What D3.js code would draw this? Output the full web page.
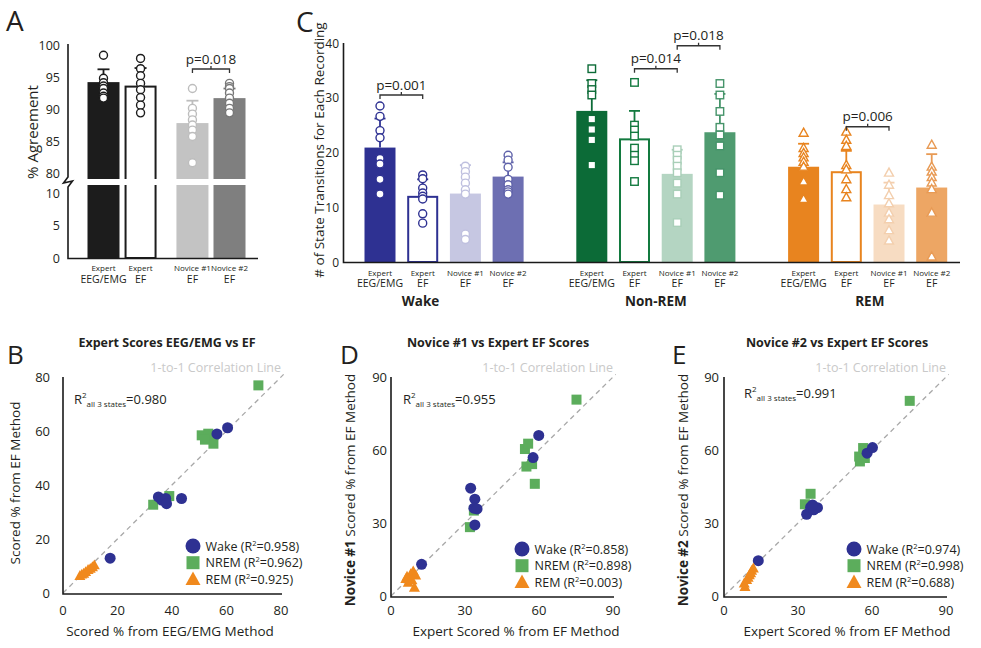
<!DOCTYPE html>
<html><head><meta charset="utf-8">
<script src="https://cdn.jsdelivr.net/npm/d3@7"></script>
<style>body{margin:0;background:#fff} text{font-family:"Open Sans",sans-serif}</style>
</head><body>
<svg id="chart" width="981" height="648"></svg>
<script>
// ---------------- DATA ----------------
const methodTop = ["Expert", "Expert", "Novice #1", "Novice #2"];
const methodBottom = ["EEG/EMG", "EF", "EF", "EF"];

// Panel A: % agreement
const agreeTicksUpper = [80, 85, 90, 95, 100];
const agreeTicksLower = [0, 5, 10];
const agreeMeans = [94.2, 93.5, 87.8, 91.7];
const agreeSD = [2.0, 2.9, 3.5, 1.5];
const agreePoints = [
  [98.4, 94.8, 94.1, 93.6, 93.2, 92.5, 92.0, 91.7],
  [97.9, 96.3, 95.2, 94.0, 93.0, 91.8, 90.6, 89.4],
  [93.2, 90.1, 89.2, 88.3, 87.5, 86.7, 85.7, 81.6],
  [94.0, 93.5, 93.2, 92.5, 91.7, 90.9, 90.1, 89.4]
];
const agreeSig = { a: 2, b: 3, level: 96.25, label: "p=0.018" };

// Panel C: state transitions
const states = ["Wake", "Non-REM", "REM"];
const transTicks = [0, 10, 20, 30, 40];
const wakeMeans = [20.9, 11.9, 12.5, 15.6];
const wakeSD = [5.3, 3.2, 5.2, 2.6];
const nremMeans = [27.6, 22.4, 16.1, 23.7];
const nremSD = [5.6, 5.2, 4.4, 7.0];
const remMeans = [17.4, 16.4, 10.5, 13.6];
const remSD = [4.2, 3.9, 4.0, 6.1];
const wakePoints = [
  [28.5, 26.6, 24.0, 22.7, 18.9, 17.9, 15.1, 12.4],
  [15.9, 15.2, 13.5, 12.6, 12.0, 11.5, 8.8, 7.1],
  [17.5, 16.5, 15.5, 14.4, 13.2, 12.4, 5.1, 4.1],
  [19.5, 18.6, 17.3, 15.1, 14.1, 13.2, 12.8, 12.4]
];
const nremPoints = [
  [35.3, 32.6, 31.5, 30.5, 26.1, 24.2, 22.3, 17.7],
  [32.8, 25.0, 24.1, 23.0, 20.8, 19.5, 18.5, 14.7],
  [20.5, 19.5, 18.6, 17.5, 16.3, 14.4, 12.4, 7.2],
  [32.6, 30.5, 27.5, 24.6, 23.2, 21.2, 16.3, 12.2]
];
const remPoints = [
  [23.6, 20.8, 19.9, 19.1, 18.3, 17.4, 14.7, 11.5],
  [23.8, 22.3, 21.2, 17.7, 16.9, 15.1, 13.3, 11.8],
  [16.3, 14.1, 12.2, 10.7, 9.0, 7.8, 5.8, 3.9],
  [21.4, 17.4, 16.5, 15.5, 14.5, 13.3, 9.0, 1.0]
];
const transSig = [
  { state: 0, a: 0, b: 1, level: 30.5, label: "p=0.001" },
  { state: 1, a: 1, b: 2, level: 35.3, label: "p=0.014" },
  { state: 1, a: 2, b: 3, level: 39.5, label: "p=0.018" },
  { state: 2, a: 1, b: 2, level: 24.7, label: "p=0.006" }
];

// Panels B, D, E: scatter [x, y]
const bWake = [[17.3,12.9],[35.0,35.6],[36.2,34.4],[37.7,35.0],[38.0,33.1],[43.5,35.0],[56.5,58.9],[60.4,61.2]];
const bNrem = [[71.7,76.9],[33.1,32.7],[39.0,35.9],[50.9,58.4],[53.3,59.0],[53.9,57.2],[55.2,55.3],[52.1,56.8]];
const bRem  = [[6.2,6.4],[6.9,6.9],[8.3,7.8],[9.2,8.6],[10.0,9.0],[10.8,9.6],[11.5,10.3],[7.6,7.2]];
const dWake = [[12.4,13.0],[32.3,44.3],[34.0,39.8],[33.6,36.1],[34.9,35.8],[34.0,29.2],[57.6,56.9],[59.9,66.0]];
const dNrem = [[75.2,80.7],[32.0,28.3],[33.6,35.1],[54.3,60.4],[55.6,62.6],[54.9,53.2],[57.2,54.2],[58.3,46.1]];
const dRem  = [[6.0,7.0],[7.0,5.5],[8.0,9.0],[9.0,10.2],[9.5,3.5],[8.5,6.5],[10.0,8.5],[6.5,8.0]];
const eWake = [[13.9,14.5],[33.5,33.6],[35.1,36.5],[36.4,35.4],[37.9,36.3],[35.9,37.4],[58.0,58.7],[60.2,61.0]];
const eNrem = [[75.3,80.2],[32.8,37.7],[35.1,42.0],[54.8,57.3],[55.1,55.3],[56.4,60.8],[57.1,56.7],[56.8,59.5]];
const eRem  = [[8.5,3.8],[9.2,6.6],[10.3,8.6],[11.2,10.4],[11.9,11.4],[9.8,7.6],[8.2,5.2],[10.8,9.4]];
const bR2 = ["0.980", "0.958", "0.962", "0.925"];
const dR2 = ["0.955", "0.858", "0.898", "0.003"];
const eR2 = ["0.991", "0.974", "0.998", "0.688"];
const ticks80 = [0, 20, 40, 60, 80];
const ticks90 = [0, 30, 60, 90];

// ---------------- HELPERS ----------------
const svg = d3.select("#chart");
const TXT = "#231f20";

function addText(p, x, y, s, size, anchor = "start", weight = "normal", fill = TXT) {
  return p.append("text").attr("x", x).attr("y", y).attr("font-size", size)
    .attr("text-anchor", anchor).attr("font-weight", weight).attr("fill", fill).text(s);
}
function marker(p, shape, x, y, size, fill, stroke, sw) {
  let el;
  if (shape === "circle") {
    el = p.append("circle").attr("cx", x).attr("cy", y).attr("r", size / 2);
  } else if (shape === "square") {
    el = p.append("rect").attr("x", x - size / 2).attr("y", y - size / 2).attr("width", size).attr("height", size);
  } else {
    const h = size * 0.9;
    el = p.append("path").attr("d", `M${x},${y - h * 0.58}L${x + size / 2},${y + h * 0.42}L${x - size / 2},${y + h * 0.42}Z`);
  }
  el.attr("fill", fill).attr("stroke", stroke).attr("stroke-width", sw);
  return el;
}
function errBar(p, cx, yMean, yTop, color, capW) {
  p.append("line").attr("x1", cx).attr("x2", cx).attr("y1", yMean).attr("y2", yTop).attr("stroke", color).attr("stroke-width", 1.8);
  p.append("line").attr("x1", cx - capW / 2).attr("x2", cx + capW / 2).attr("y1", yTop).attr("y2", yTop).attr("stroke", color).attr("stroke-width", 1.8);
}
function bracket(p, x1, x2, y, label) {
  p.append("path").attr("d", `M${x1},${y + 4}V${y}H${x2}V${y + 4}M${(x1 + x2) / 2},${y}V${y - 3}`)
    .attr("fill", "none").attr("stroke", "#333").attr("stroke-width", 1.3);
  addText(p, (x1 + x2) / 2, y - 5.5, label, 13.5, "middle");
}
function twoLineLabel(p, x, yTop, top, bottom, s1, s2) {
  addText(p, x, yTop, top, s1, "middle");
  addText(p, x, yTop + 11.5, bottom, s2, "middle");
}

// ---------------- PANEL A ----------------
const gA = svg.append("g");
addText(gA, 6, 31, "A", 28);
const yUp = d3.scaleLinear().domain([80, 100]).range([173, 45]);
const yLo = d3.scaleLinear().domain([0, 10]).range([258, 193]);
const xA = d3.scaleLinear().domain([0, 3.4]).range([103.5, 229.5]);
const slotsA = [0, 1, 2.4, 3.4];
const fillA = ["#1c1c1c", "#ffffff", "#c3c3c3", "#7f7f7f"];
const strokeA = ["#1c1c1c", "#1c1c1c", "#bdbdbd", "#777777"];
const bwA = 32;
agreeMeans.forEach((m, i) => {
  const cx = xA(slotsA[i]);
  const white = fillA[i] === "#ffffff";
  gA.append("rect").attr("x", cx - bwA / 2 + (white ? 1 : 0)).attr("width", bwA - (white ? 2 : 0))
    .attr("y", yUp(m)).attr("height", yLo(0) - yUp(m))
    .attr("fill", fillA[i]).attr("stroke", white ? strokeA[i] : "none").attr("stroke-width", 2);
});
// axis break strip
gA.append("rect").attr("x", 70).attr("y", 179).attr("width", 190).attr("height", 6).attr("fill", "#fff");
agreeMeans.forEach((m, i) => {
  const cx = xA(slotsA[i]);
  errBar(gA, cx, yUp(m), yUp(m + agreeSD[i]), strokeA[i], 12);
  agreePoints[i].forEach(v => marker(gA, "circle", cx, yUp(v), 8, "#fff", strokeA[i], 1.4));
});
gA.append("path").attr("d", "M68,44V177L63.5,183L72.5,181L68,187V258.5H258")
  .attr("fill", "none").attr("stroke", "#1a1a1a").attr("stroke-width", 1.6);
agreeTicksUpper.forEach(t => addText(gA, 60, yUp(t) + 4.5, t, 12.5, "end"));
agreeTicksLower.forEach(t => addText(gA, 60, yLo(t) + 4.5, t, 12.5, "end"));
methodTop.forEach((t, i) => twoLineLabel(gA, xA(slotsA[i]), 271, t, methodBottom[i], 8, 10.5));
bracket(gA, xA(slotsA[agreeSig.a]), xA(slotsA[agreeSig.b]), yUp(agreeSig.level), agreeSig.label);
addText(gA, 0, 0, "% Agreement", 15, "middle").attr("transform", "translate(38,132) rotate(-90)");

// ---------------- PANEL C ----------------
const gC = svg.append("g");
addText(gC, 296, 32, "C", 28);
const yC = d3.scaleLinear().domain([0, 40]).range([262, 43]);
const xC = d3.scaleLinear().domain([0, 12.88]).range([380, 930]);
const slotC = (g, i) => g * 4.96 + i;
const groupLabelSlot = [0.95, 1.5, 1.55];
const cMeans = [wakeMeans, nremMeans, remMeans];
const cSD = [wakeSD, nremSD, remSD];
const cPts = [wakePoints, nremPoints, remPoints];
const shapes = ["circle", "square", "triangle"];
const cFill = [
  ["#2e3192", "#ffffff", "#c6c7e2", "#6d6fb2"],
  ["#0c6b37", "#ffffff", "#b4d5c2", "#4f9b70"],
  ["#e8841f", "#ffffff", "#f7dcc2", "#eda664"]
];
const cStroke = [
  ["#2e3192", "#2e3192", "#bfc0df", "#5f62aa"],
  ["#0c6b37", "#137a3f", "#a9cfb8", "#46946a"],
  ["#e8841f", "#e8841f", "#f3cfae", "#e89a54"]
];
const bwC = 31;
states.forEach((st, g) => {
  cMeans[g].forEach((m, i) => {
    const cx = xC(slotC(g, i));
    const white = cFill[g][i] === "#ffffff";
    gC.append("rect").attr("x", cx - bwC / 2 + (white ? 1 : 0)).attr("width", bwC - (white ? 2 : 0))
      .attr("y", yC(m)).attr("height", yC(0) - yC(m))
      .attr("fill", cFill[g][i]).attr("stroke", white ? cStroke[g][i] : "none").attr("stroke-width", 2);
  });
});
states.forEach((st, g) => {
  cMeans[g].forEach((m, i) => {
    const cx = xC(slotC(g, i));
    errBar(gC, cx, yC(m), yC(m + cSD[g][i]), cStroke[g][i], 11);
    const sz = shapes[g] === "circle" ? 8 : (shapes[g] === "square" ? 7.5 : 9);
    cPts[g][i].forEach(v => marker(gC, shapes[g], cx, yC(v), sz, "#fff", cStroke[g][i], 1.4));
    twoLineLabel(gC, cx, 275.5, methodTop[i], methodBottom[i], 8, 10.5);
  });
  addText(gC, xC(slotC(g, groupLabelSlot[g])), 306, st, 13.5, "middle", "bold");
});
gC.append("path").attr("d", "M343.5,43V262.5H960").attr("fill", "none").attr("stroke", "#1a1a1a").attr("stroke-width", 1.6);
transTicks.forEach(t => addText(gC, 339, yC(t) + 4.5, t, 12, "end"));
transSig.forEach(s => bracket(gC, xC(slotC(s.state, s.a)), xC(slotC(s.state, s.b)), yC(s.level), s.label));
addText(gC, 0, 0, "# of State Transitions for Each Recording", 13.5, "middle").attr("transform", "translate(324,150) rotate(-90)");

// ---------------- SCATTERS ----------------
const scColors = { wake: "#2e3192", nrem: "#5cad5c", rem: "#f0891d" };
function scatterPanel(cfg) {
  const g = svg.append("g");
  const x = d3.scaleLinear().domain(cfg.dom).range(cfg.xr);
  const y = d3.scaleLinear().domain(cfg.dom).range(cfg.yr);
  addText(g, cfg.letterX, 364, cfg.letter, 26);
  addText(g, (cfg.xr[0] + cfg.xr[1]) / 2 + cfg.titleDx, 347, cfg.title, 12.5, "middle", "bold");
  // 1:1 line
  const top = cfg.dom[1] * 1.012;
  g.append("line").attr("x1", x(0)).attr("y1", y(0)).attr("x2", x(top)).attr("y2", y(top))
    .attr("stroke", "#a8a8a8").attr("stroke-width", 1.3).attr("stroke-dasharray", "5,4");
  addText(g, cfg.xr[1], 371.5, "1-to-1 Correlation Line", 12.5, "end", "normal", "#c9c9c9");
  // axes
  g.append("path").attr("d", `M${cfg.xr[0]},${cfg.yr[1]}V${cfg.yr[0] + 1}H${cfg.xr[1] + 1}`)
    .attr("fill", "none").attr("stroke", "#1a1a1a").attr("stroke-width", 1.6);
  cfg.ticks.forEach(t => {
    addText(g, x(t), 615, t, 13, "middle");
    addText(g, cfg.xr[0] - cfg.yTickGap, y(t) + 4.5, t, 13, "end");
  });
  addText(g, (cfg.xr[0] + cfg.xr[1]) / 2 + cfg.xLabDx, 636, cfg.xLabel, 13.5, "middle");
  const yl = addText(g, 0, 0, "", 13.5, "middle").attr("transform", `translate(${cfg.yLabX},${cfg.yLabY}) rotate(-90)`);
  if (cfg.yBold) yl.append("tspan").attr("font-weight", "bold").text(cfg.yBold);
  yl.append("tspan").text(cfg.yLabel);
  // points
  cfg.nrem.forEach(d => marker(g, "square", x(d[0]), y(d[1]), 10, scColors.nrem, "none", 0));
  cfg.wake.forEach(d => marker(g, "circle", x(d[0]), y(d[1]), 11, scColors.wake, "none", 0));
  cfg.rem.forEach(d => marker(g, "triangle", x(d[0]), y(d[1]), 11, scColors.rem, "none", 0));
  // R2 all
  const r = addText(g, cfg.r2x, cfg.r2y, "R", 13);
  r.append("tspan").attr("font-size", 8).attr("dy", -6).text("2");
  r.append("tspan").attr("font-size", 8).attr("dy", 9).text("all 3 states");
  r.append("tspan").attr("font-size", 13).attr("dy", -3).text("=" + cfg.r2[0]);
  // legend
  const names = ["Wake", "NREM", "REM"], shp = ["circle", "square", "triangle"], cols = [scColors.wake, scColors.nrem, scColors.rem];
  names.forEach((n, k) => {
    const ly = cfg.legY + k * 16.7;
    marker(g, shp[k], cfg.legX, ly, shp[k] === "square" ? 13 : 15, cols[k], "none", 0);
    const t = addText(g, cfg.legX + 12.5, ly + 4.5, n + " (R", 12.5);
    t.append("tspan").attr("font-size", 7.5).attr("dy", -5).text("2");
    t.append("tspan").attr("dy", 5).text("=" + cfg.r2[k + 1] + ")");
  });
}
scatterPanel({ letter: "B", letterX: 7, dom: [0, 80], xr: [63, 281], yr: [593, 377], ticks: ticks80, yTickGap: 13,
  title: "Expert Scores EEG/EMG vs EF", titleDx: -5, xLabel: "Scored % from EEG/EMG Method", xLabDx: -2,
  yLabel: "Scored % from EF Method", yLabX: 20, yLabY: 483,
  wake: bWake, nrem: bNrem, rem: bRem, r2: bR2, r2x: 74, r2y: 404, legX: 193, legY: 546 });
scatterPanel({ letter: "D", letterX: 340, dom: [0, 90], xr: [391, 613], yr: [596, 377], ticks: ticks90, yTickGap: 4,
  title: "Novice #1 vs Expert EF Scores", titleDx: -4, xLabel: "Expert Scored % from EF Method", xLabDx: 14,
  yBold: "Novice #1", yLabel: " Scored % from EF Method", yLabX: 355, yLabY: 490,
  wake: dWake, nrem: dNrem, rem: dRem, r2: dR2, r2x: 403, r2y: 404, legX: 522, legY: 549 });
scatterPanel({ letter: "E", letterX: 672, dom: [0, 90], xr: [724, 946], yr: [596, 377], ticks: ticks90, yTickGap: 5,
  title: "Novice #2 vs Expert EF Scores", titleDx: 2, xLabel: "Expert Scored % from EF Method", xLabDx: 12,
  yBold: "Novice #2", yLabel: " Scored % from EF Method", yLabX: 688, yLabY: 490,
  wake: eWake, nrem: eNrem, rem: eRem, r2: eR2, r2x: 744, r2y: 398, legX: 854, legY: 549 });
</script>
</body></html>
